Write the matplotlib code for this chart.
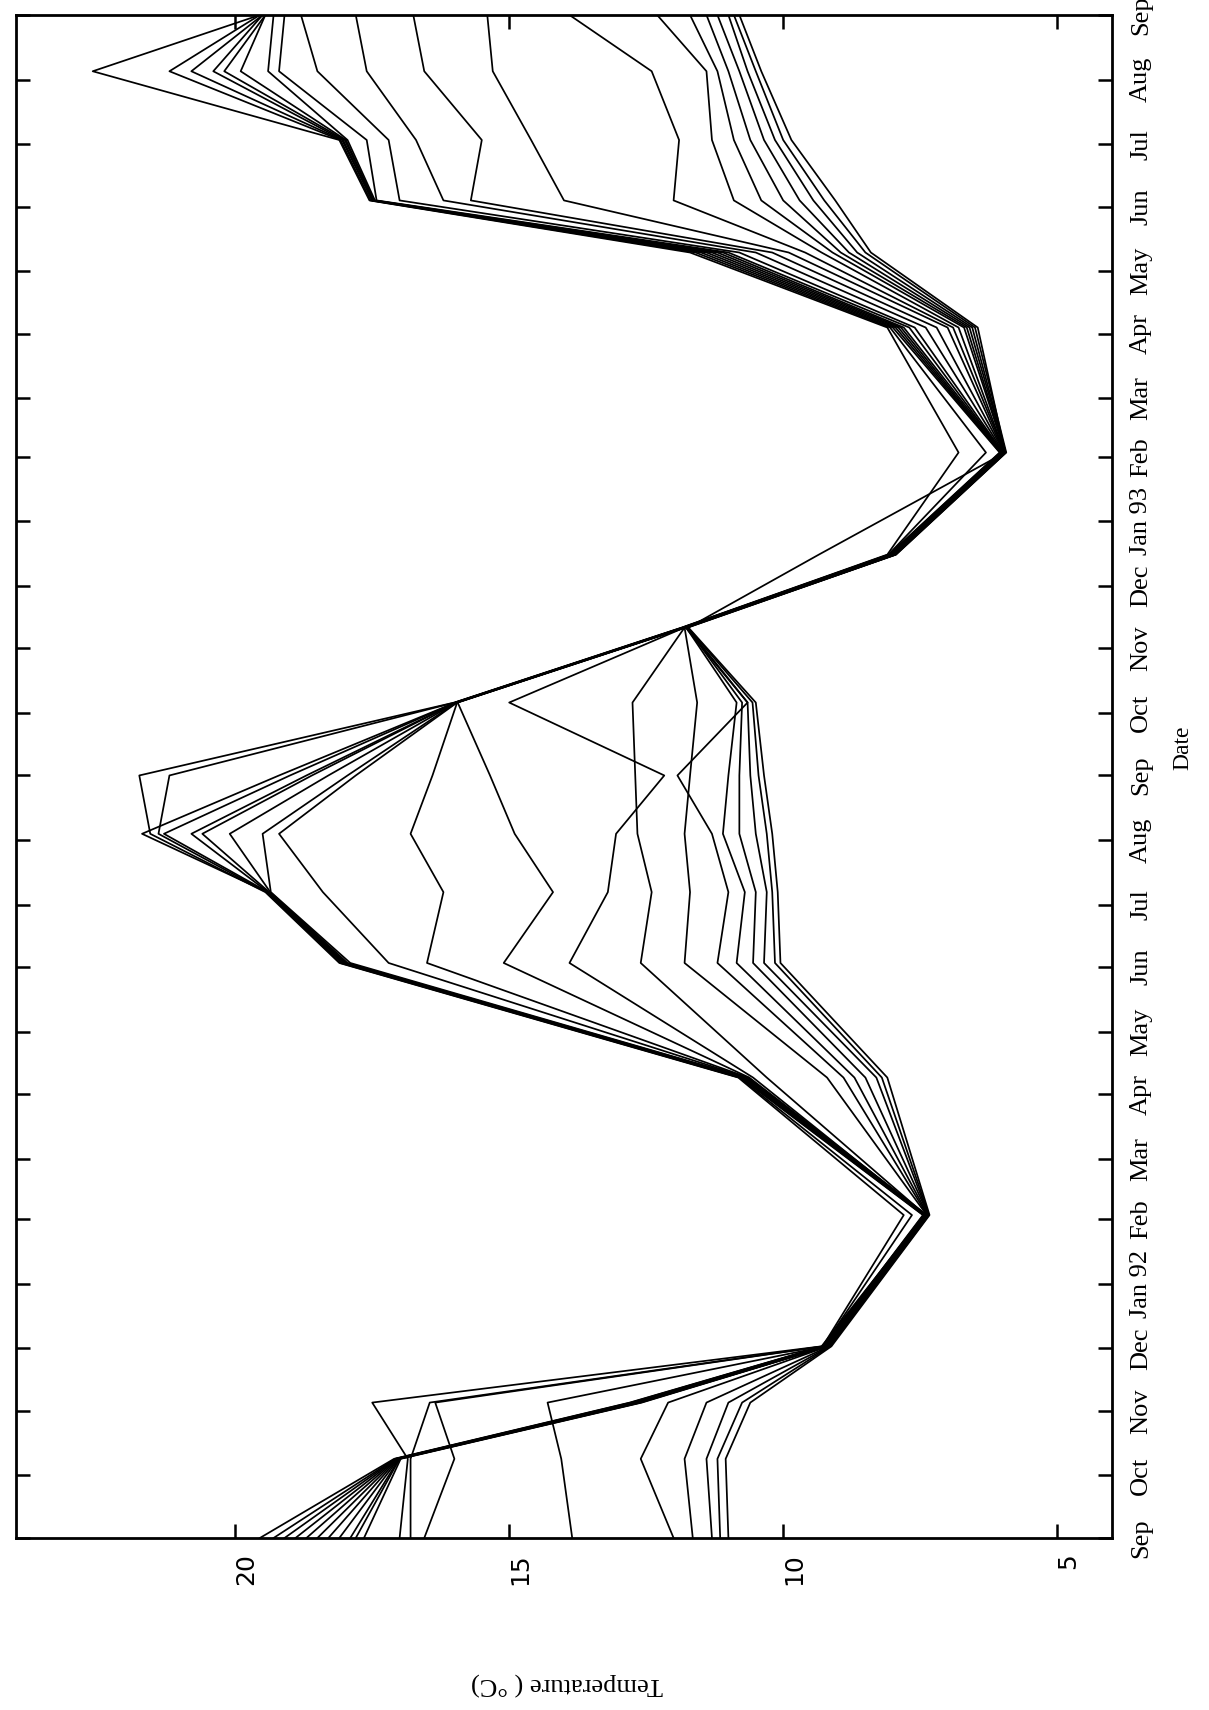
import numpy as np
import pandas as pd
import matplotlib
matplotlib.use("Agg")
import matplotlib.pyplot as plt
import matplotlib.dates as mdates
from matplotlib.transforms import ScaledTranslation

# ------------------ DATA ------------------
# sampling dates (one profile of 20 series per date)
sample_dates = ["1991-09-01", "1991-10-09", "1991-11-05", "1991-12-02",
                "1992-02-03", "1992-04-09", "1992-06-03", "1992-07-07",
                "1992-08-04", "1992-09-01", "1992-10-06", "1992-11-11",
                "1992-12-16", "1993-02-03", "1993-04-04", "1993-05-10",
                "1993-06-04", "1993-07-03", "1993-08-05", "1993-09-01"]

# temperature (deg C) of the 20 series at each sampling date
sep91 = [19.55, 19.3, 19.1, 18.9, 18.7, 18.5, 18.3, 18.1, 17.9, 17.8, 17.65, 17.0, 16.8, 16.55, 13.85, 12.0, 11.65, 11.3, 11.15, 11.0]
oct91 = [17.1, 17.08, 17.07, 17.06, 17.05, 17.04, 17.03, 17.02, 17.01, 17.0, 16.98, 16.85, 16.8, 16.0, 14.05, 12.6, 11.8, 11.4, 11.2, 11.05]
nov91 = [12.8, 12.78, 12.75, 12.72, 12.7, 12.68, 12.66, 12.64, 12.62, 12.6, 12.58, 17.5, 16.45, 16.35, 14.3, 12.1, 11.4, 11.0, 10.75, 10.6]
dec91 = [9.28, 9.27, 9.26, 9.25, 9.24, 9.23, 9.22, 9.21, 9.2, 9.2, 9.19, 9.3, 9.28, 9.26, 9.22, 9.18, 9.16, 9.15, 9.14, 9.12]
feb92 = [7.8, 7.65, 7.45, 7.44, 7.43, 7.42, 7.41, 7.4, 7.4, 7.39, 7.38, 7.42, 7.4, 7.38, 7.37, 7.36, 7.35, 7.35, 7.34, 7.33]
apr92 = [10.82, 10.8, 10.78, 10.76, 10.74, 10.72, 10.7, 10.68, 10.66, 10.64, 10.62, 10.55, 10.3, 9.2, 8.9, 8.7, 8.5, 8.3, 8.2, 8.1]
jun92 = [18.1, 18.08, 18.05, 18.02, 18.0, 17.98, 17.95, 17.9, 17.2, 16.5, 15.1, 13.9, 12.6, 11.8, 11.2, 10.85, 10.55, 10.35, 10.15, 10.05]
jul92 = [19.45, 19.43, 19.42, 19.4, 19.4, 19.38, 19.36, 19.35, 18.4, 16.2, 14.2, 13.2, 12.4, 11.7, 11.0, 10.7, 10.5, 10.3, 10.2, 10.1]
aug92 = [21.55, 21.4, 21.7, 21.3, 20.8, 20.6, 20.1, 19.5, 19.2, 16.8, 14.9, 13.05, 12.66, 11.8, 11.3, 11.1, 10.8, 10.5, 10.3, 10.2]
sep92 = [21.75, 21.2, 19.2, 19.0, 18.7, 18.6, 18.3, 17.95, 17.8, 16.4, 15.35, 12.17, 12.7, 11.7, 11.93, 11.0, 10.8, 10.6, 10.45, 10.35]
oct92 = [16.0, 15.99, 15.98, 15.98, 15.97, 15.97, 15.96, 15.96, 15.95, 15.95, 15.94, 15.0, 12.75, 11.57, 10.65, 10.85, 10.75, 10.65, 10.56, 10.5]
nov92 = [11.85, 11.84, 11.83, 11.82, 11.82, 11.81, 11.8, 11.8, 11.8, 11.79, 11.78, 11.8, 11.8, 11.8, 11.78, 11.77, 11.76, 11.75, 11.74, 11.73]
dec92 = [8.1, 8.08, 8.07, 8.06, 8.05, 8.05, 8.04, 8.03, 8.02, 8.01, 8.0, 8.0, 7.99, 7.98, 7.97, 7.96, 7.95, 7.95, 7.94, 9.35]
feb93 = [6.8, 6.3, 6.05, 6.04, 6.03, 6.02, 6.0, 6.0, 5.99, 5.98, 5.97, 5.97, 5.96, 5.96, 5.95, 5.95, 5.94, 5.94, 5.93, 5.95]
apr93 = [8.1, 8.05, 8.0, 7.95, 7.9, 7.85, 7.8, 7.7, 7.6, 7.4, 7.2, 7.0, 6.9, 6.8, 6.7, 6.65, 6.6, 6.55, 6.5, 6.45]
may93 = [11.7, 11.6, 11.5, 11.4, 11.3, 11.2, 11.1, 11.0, 10.8, 10.5, 10.2, 9.9, 9.6, 9.3, 9.1, 8.95, 8.8, 8.65, 8.5, 8.4]
jun93 = [17.55, 17.53, 17.5, 17.5, 17.48, 17.47, 17.45, 17.42, 17.0, 16.2, 15.7, 14.0, 12.0, 10.9, 10.4, 10.0, 9.7, 9.45, 9.25, 9.05]
jul93 = [18.1, 18.08, 18.05, 18.03, 18.0, 17.98, 17.95, 17.6, 17.2, 16.7, 15.5, 14.6, 11.9, 11.3, 10.9, 10.6, 10.35, 10.15, 10.0, 9.85]
aug93 = [22.6, 21.2, 20.8, 20.4, 20.2, 19.9, 19.4, 19.2, 18.5, 17.6, 16.55, 15.3, 12.4, 11.4, 11.2, 11.0, 10.8, 10.65, 10.5, 10.4]
sep93 = [19.55, 19.55, 19.5, 19.5, 19.45, 19.45, 19.3, 19.1, 18.8, 17.8, 16.75, 15.4, 13.9, 12.3, 11.7, 11.4, 11.2, 11.0, 10.9, 10.8]

month_labels = ["Sep", "Oct", "Nov", "Dec", "Jan 92", "Feb", "Mar", "Apr", "May",
                "Jun", "Jul", "Aug", "Sep", "Oct", "Nov", "Dec", "Jan 93", "Feb",
                "Mar", "Apr", "May", "Jun", "Jul", "Aug", "Sep"]
temp_ticks = [20, 15, 10, 5]

# ------------------ PLOT ------------------
temps = np.array([sep91, oct91, nov91, dec91, feb92, apr92, jun92, jul92, aug92, sep92,
                  oct92, nov92, dec92, feb93, apr93, may93, jun93, jul93, aug93, sep93])
dates = mdates.date2num(pd.to_datetime(sample_dates))

fig = plt.figure(figsize=(12.09, 17.10), dpi=100)
ax = fig.add_axes([16 / 1209, 1 - 1538 / 1710, 1096 / 1209, 1523 / 1710])

for k in range(temps.shape[1]):
    ax.plot(temps[:, k], dates, color="black", lw=1.25)

# the page is turned: temperature runs right-to-left, date runs upward
ax.set_xlim(24, 4)
month_ticks = mdates.date2num(pd.date_range("1991-09-01", "1993-09-01", freq="MS"))
ax.set_ylim(month_ticks[0], month_ticks[-1])

ax.set_yticks(month_ticks)
ax.set_yticklabels(month_labels, rotation=90, va="center",
                   fontfamily="Liberation Serif", fontsize=19)
ax.tick_params(axis="y", left=True, right=True, labelleft=False, labelright=True,
               direction="in", length=10, width=1.8, pad=13)

ax.set_xticks(temp_ticks)
ax.set_xticklabels([str(t) for t in temp_ticks], rotation=90,
                   fontfamily="DejaVu Sans", fontsize=18)
ax.tick_params(axis="x", top=True, bottom=True, direction="in",
               length=10, width=1.8, pad=11)
# labels sit a little to the right of their ticks in the scan
shift = ScaledTranslation(0.11, 0, fig.dpi_scale_trans)
for lab in ax.get_xticklabels():
    lab.set_transform(lab.get_transform() + shift)

for s in ax.spines.values():
    s.set_linewidth(2)

fig.text(1183 / 1209, 1 - 748 / 1710, "Date", rotation=90, ha="center", va="center",
         fontfamily="Liberation Serif", fontsize=17)
fig.text(567 / 1209, 1 - 1684 / 1710, "Temperature ( °C)", rotation=180,
         ha="center", va="center", fontfamily="Liberation Serif", fontsize=19)

fig.savefig("out.png", dpi=100)
